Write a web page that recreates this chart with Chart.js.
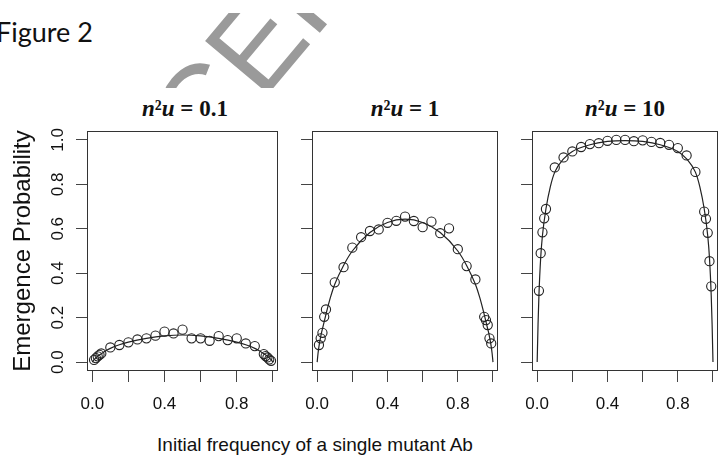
<!DOCTYPE html>
<html>
<head>
<meta charset="utf-8">
<script src="https://cdn.jsdelivr.net/npm/chart.js@4.4.1/dist/chart.umd.min.js"></script>
<style>
html, body { margin: 0; padding: 0; background: #fff; }
body { width: 718px; height: 459px; overflow: hidden; position: relative; }
canvas { position: absolute; top: 90px; }
.fig { position: absolute; left: -4px; top: 15px; font-family: Lato, "Open Sans", sans-serif; font-size: 27px; color: #111; white-space: nowrap; }
.wm { position: absolute; left: 0; top: 13px; width: 718px; height: 75px; overflow: hidden; }
.wm span { position: absolute; left: 21px; top: 217px; font-family: "Liberation Sans", sans-serif; font-size: 120px; line-height: 1; color: #9a9a9a; white-space: nowrap; transform: rotate(-50deg); transform-origin: 0 0; }
.ptitle { position: absolute; top: 96px; width: 196px; text-align: center; font-family: "Liberation Serif", serif; font-weight: bold; font-size: 23px; color: #111; white-space: nowrap; }
.xtitle { position: absolute; left: 115px; width: 400px; top: 434px; text-align: center; font-family: "Liberation Sans", sans-serif; font-size: 19px; color: #111; white-space: nowrap; }
</style>
</head>
<body>
<div class="wm"><span>ACCEPTED MANUSCRIPT</span></div>
<div class="fig">Figure 2</div>
<div class="ptitle" style="left:87px"><i>n</i>²<i>u</i> = 0.1</div>
<div class="ptitle" style="left:307px"><i>n</i>²<i>u</i> = 1</div>
<div class="ptitle" style="left:527px"><i>n</i>²<i>u</i> = 10</div>
<canvas id="p1" width="285" height="335" style="left:0px"></canvas>
<canvas id="p2" width="212" height="335" style="left:293px"></canvas>
<canvas id="p3" width="212" height="335" style="left:513px"></canvas>
<div class="xtitle">Initial frequency of a single mutant Ab</div>
<script>
// simulated points (initial frequency)
var freqs = [0.01, 0.02, 0.03, 0.04, 0.05,
  0.10, 0.15, 0.20, 0.25, 0.30, 0.35, 0.40, 0.45, 0.50, 0.55, 0.60, 0.65, 0.70, 0.75, 0.80, 0.85, 0.90,
  0.95, 0.96, 0.97, 0.98, 0.99];
var sim01 = [0.010, 0.018, 0.026, 0.033, 0.039,
  0.066, 0.077, 0.089, 0.102, 0.107, 0.119, 0.137, 0.129, 0.146, 0.107, 0.107, 0.096, 0.117, 0.099, 0.107, 0.084, 0.072,
  0.036, 0.027, 0.021, 0.012, 0.006];
var sim1 = [0.077, 0.107, 0.132, 0.204, 0.237,
  0.359, 0.427, 0.515, 0.562, 0.590, 0.597, 0.627, 0.636, 0.655, 0.635, 0.607, 0.632, 0.580, 0.602, 0.508, 0.432, 0.372,
  0.204, 0.189, 0.167, 0.107, 0.084];
var sim10 = [0.321, 0.490, 0.584, 0.647, 0.689,
  0.876, 0.921, 0.948, 0.968, 0.981, 0.985, 0.996, 1.000, 1.000, 0.994, 0.998, 0.991, 0.986, 0.978, 0.963, 0.930, 0.856,
  0.677, 0.645, 0.582, 0.454, 0.341];

// theory curves
var curveX = [0, 0.005, 0.01, 0.02, 0.03, 0.05, 0.075, 0.1, 0.15, 0.2, 0.3, 0.4, 0.5,
  0.6, 0.7, 0.8, 0.85, 0.9, 0.925, 0.95, 0.97, 0.98, 0.99, 0.995, 1.0];
var theory01 = [0, 0.006, 0.011, 0.019, 0.026, 0.038, 0.051, 0.062, 0.078, 0.090, 0.107, 0.118, 0.122,
  0.118, 0.107, 0.090, 0.078, 0.062, 0.051, 0.038, 0.026, 0.019, 0.011, 0.006, 0];
var theory1 = [0, 0.04, 0.07, 0.115, 0.15, 0.215, 0.29, 0.35, 0.435, 0.5, 0.583, 0.628, 0.643,
  0.628, 0.583, 0.5, 0.435, 0.35, 0.29, 0.215, 0.15, 0.115, 0.07, 0.04, 0];
var theory10 = [0, 0.17, 0.30, 0.47, 0.57, 0.69, 0.79, 0.855, 0.915, 0.948, 0.978, 0.993, 0.997,
  0.993, 0.978, 0.948, 0.915, 0.855, 0.79, 0.69, 0.57, 0.47, 0.30, 0.17, 0];

var xTickVals = [0, 0.2, 0.4, 0.6, 0.8, 1.0];
var xTickLabels = ['0.0', '', '0.4', '', '0.8', ''];
var yTickVals = [0, 0.2, 0.4, 0.6, 0.8, 1.0];
var yTickLabels = ['0.0', '0.2', '0.4', '0.6', '0.8', '1.0'];

var ink = '#222';

var boxPlugin = {
  id: 'box',
  beforeDatasetsDraw: function (chart) {
    var a = chart.chartArea, c = chart.ctx;
    c.save();
    c.strokeStyle = '#333';
    c.lineWidth = 1;
    c.strokeRect(Math.round(a.left) + 0.5, Math.round(a.top) + 0.5,
      Math.round(a.right - a.left) - 1, Math.round(a.bottom - a.top) - 1);
    c.restore();
  }
};

function pairs(xs, ys) {
  return xs.map(function (x, i) { return { x: x, y: ys[i] }; });
}

function makePanel(id, pts, curve, showY) {
  var ctx = document.getElementById(id).getContext('2d');
  return new Chart(ctx, {
    type: 'scatter',
    data: {
      datasets: [{
        data: pairs(curveX, curve),
        showLine: true,
        pointRadius: 0,
        borderColor: ink,
        borderWidth: 1.2,
        cubicInterpolationMode: 'monotone'
      }, {
        data: pairs(freqs, pts),
        showLine: false,
        pointStyle: 'circle',
        pointRadius: 4.6,
        pointBorderWidth: 1.1,
        pointBorderColor: ink,
        pointBackgroundColor: 'rgba(0,0,0,0)'
      }]
    },
    options: {
      responsive: false,
      animation: false,
      devicePixelRatio: 1,
      layout: { padding: { top: 41, right: 2, bottom: 0, left: 0 } },
      plugins: { legend: { display: false }, tooltip: { enabled: false } },
      scales: {
        x: {
          type: 'linear', min: -0.0292, max: 1.0292,
          afterBuildTicks: function (s) { s.ticks = xTickVals.map(function (v) { return { value: v }; }); },
          afterFit: function (s) { s.height = 54; },
          grid: { drawOnChartArea: false, drawTicks: true, tickLength: 11, color: '#444' },
          border: { display: false },
          ticks: {
            autoSkip: false, maxRotation: 0, padding: 12, color: '#111',
            font: { family: 'Liberation Sans', size: 17 },
            callback: function (v, i) { return xTickLabels[i]; }
          }
        },
        y: {
          type: 'linear', min: -0.04, max: 1.04,
          afterBuildTicks: function (s) { s.ticks = yTickVals.map(function (v) { return { value: v }; }); },
          afterFit: function (s) { s.width = showY ? 87 : 14; },
          grid: { drawOnChartArea: false, drawTicks: true, tickLength: 11, color: '#444' },
          border: { display: false },
          title: {
            display: showY, text: 'Emergence Probability', color: '#111',
            font: { family: 'Liberation Sans', size: 24 }, padding: { top: 9, bottom: 0 }
          },
          ticks: {
            autoSkip: false, minRotation: 90, maxRotation: 90, crossAlign: 'center', padding: 6, color: '#111',
            font: { family: 'Liberation Sans', size: 17 },
            callback: function (v, i) { return showY ? yTickLabels[i] : ''; }
          }
        }
      }
    },
    plugins: [boxPlugin]
  });
}

makePanel('p1', sim01, theory01, true);
makePanel('p2', sim1, theory1, false);
makePanel('p3', sim10, theory10, false);
</script>
</body>
</html>
